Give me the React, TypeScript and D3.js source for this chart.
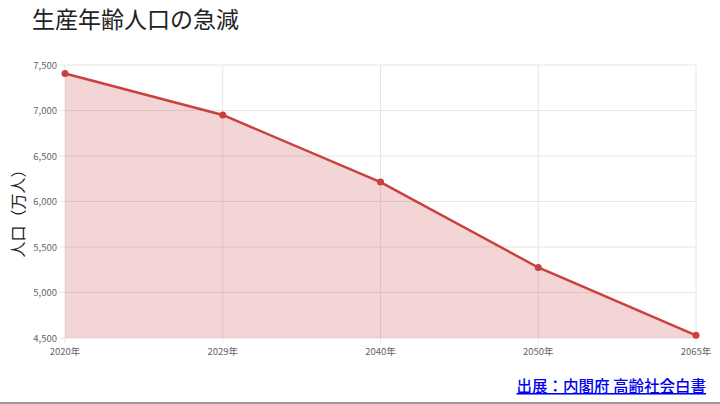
import React from "react";
import * as d3 from "d3";

const categories = ["2020年", "2029年", "2040年", "2050年", "2065年"];
const values = [7406, 6951, 6213, 5275, 4529];
const yTicks = [4500, 5000, 5500, 6000, 6500, 7000, 7500];
const title = "生産年齢人口の急減";
const yLabel = "人口（万人）";
const source = "出展：内閣府 高齢社会白書";

const W = 720, H = 404;
const left = 65, right = 696, top = 65, bottom = 338;
const FONT = "'Noto Sans CJK JP', 'Noto Sans', sans-serif";
const LINE = "#c9403e";

export default function App() {
  const x = d3.scalePoint<string>().domain(categories).range([left, right]);
  const y = d3.scaleLinear().domain([4500, 7500]).range([bottom, top]);
  const pts = categories.map((c, i) => [x(c) as number, y(values[i])] as [number, number]);
  const line = d3.line<[number, number]>().x(d => d[0]).y(d => d[1]);
  const area = d3.area<[number, number]>().x(d => d[0]).y0(bottom).y1(d => d[1]);
  const fmt = d3.format(",");
  return (
    <svg width={W} height={H} style={{ position: "fixed", left: 0, top: 0, background: "#fff" }}>
      <rect width={W} height={H} fill="#fff" />
      <text x={32} y={28} fontFamily={FONT} fontSize={23} fill="#222">{title}</text>
      {yTicks.map(t => (
        <g key={t}>
          <line x1={left - 5} x2={right} y1={y(t)} y2={y(t)} stroke="#e6e6e6" strokeWidth={1} />
          <text x={57} y={y(t) + 3.5} textAnchor="end" fontFamily={FONT} fontSize={9.5} fill="#666">{fmt(t)}</text>
        </g>
      ))}
      {categories.map(c => (
        <g key={c}>
          <line x1={x(c)} x2={x(c)} y1={top} y2={bottom + 5} stroke="#e6e6e6" strokeWidth={1} />
          <text x={x(c)} y={355} textAnchor="middle" fontFamily={FONT} fontSize={9.5} fill="#666">{c}</text>
        </g>
      ))}
      <path d={area(pts) || ""} fill="rgba(201,64,62,0.22)" />
      <path d={line(pts) || ""} fill="none" stroke={LINE} strokeWidth={2.5} />
      {pts.map((p, i) => <circle key={i} cx={p[0]} cy={p[1]} r={3.5} fill={LINE} />)}
      <text transform={`translate(24,${(top + bottom) / 2 + 8}) rotate(-90)`} textAnchor="middle" fontFamily={FONT} fontSize={16} fill="#222">{yLabel}</text>
      <text x={706} y={392} textAnchor="end" fontFamily={FONT} fontSize={15.5} fontWeight={500} fill="#0000ee" textDecoration="underline">{source}</text>
      <rect x={0} y={402} width={W} height={2} fill="#999" />
    </svg>
  );
}
